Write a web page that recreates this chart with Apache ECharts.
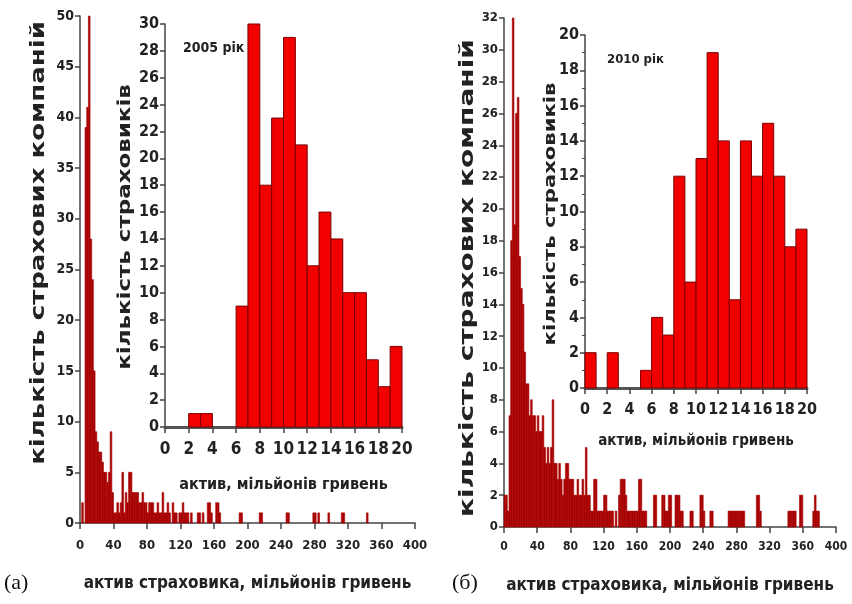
<!DOCTYPE html>
<html>
<head>
<meta charset="utf-8">
<script src="https://cdn.jsdelivr.net/npm/echarts@6/dist/echarts.min.js"></script>
<style>
  html, body { margin: 0; padding: 0; background: #fff; }
  #chart { width: 852px; height: 604px; }
</style>
</head>
<body>
<div id="chart"></div>
<script>
// counts of companies per 2 mln bin, 0..400
const assets2005 = [
  0, 2, 0, 39, 41, 50, 28, 24, 15, 9,
  8, 7, 7, 6, 5, 5, 4, 5, 9, 3,
  1, 1, 2, 1, 2, 5, 1, 3, 2, 5,
  5, 3, 3, 3, 3, 2, 2, 3, 2, 2,
  1, 2, 2, 2, 1, 1, 2, 1, 1, 3,
  1, 1, 2, 1, 0, 2, 1, 1, 0, 1,
  1, 2, 1, 1, 1, 0, 1, 0, 0, 0,
  1, 1, 0, 1, 0, 0, 2, 2, 1, 0,
  0, 2, 2, 1, 0, 0, 0, 0, 0, 0,
  0, 0, 0, 0, 0, 1, 1, 0, 0, 0,
  0, 0, 0, 0, 0, 0, 0, 1, 1, 0,
  0, 0, 0, 0, 0, 0, 0, 0, 0, 0,
  0, 0, 0, 1, 1, 0, 0, 0, 0, 0,
  0, 0, 0, 0, 0, 0, 0, 0, 0, 1,
  1, 0, 1, 0, 0, 0, 0, 0, 1, 0,
  0, 0, 0, 0, 0, 0, 1, 1, 0, 0,
  0, 0, 0, 0, 0, 0, 0, 0, 0, 0,
  0, 1, 0, 0, 0, 0, 0, 0, 0, 0,
  0, 0, 0, 0, 0, 0, 0, 0, 0, 0,
  0, 0, 0, 0, 0, 0, 0, 0, 0, 0
];
const assets2010 = [
  2, 2, 1, 7, 18, 32, 19, 26, 27, 17,
  15, 14, 11, 9, 9, 7, 8, 7, 7, 6,
  7, 6, 6, 7, 5, 4, 5, 4, 5, 8,
  4, 4, 3, 4, 3, 2, 3, 4, 4, 3,
  3, 3, 2, 2, 3, 2, 2, 3, 2, 5,
  2, 2, 1, 1, 3, 3, 1, 1, 1, 1,
  2, 2, 1, 1, 1, 1, 0, 1, 0, 2,
  3, 3, 3, 2, 1, 1, 1, 1, 1, 1,
  1, 3, 3, 1, 1, 1, 0, 0, 0, 0,
  2, 2, 0, 0, 0, 2, 2, 1, 1, 2,
  2, 0, 0, 2, 2, 2, 1, 1, 0, 0,
  0, 0, 1, 1, 0, 0, 0, 0, 2, 2,
  1, 0, 0, 0, 1, 1, 0, 0, 0, 0,
  0, 0, 0, 0, 0, 1, 1, 1, 1, 1,
  1, 1, 1, 1, 1, 0, 0, 0, 0, 0,
  0, 0, 2, 2, 1, 0, 0, 0, 0, 0,
  0, 0, 0, 0, 0, 0, 0, 0, 0, 0,
  0, 1, 1, 1, 1, 1, 0, 0, 2, 2,
  0, 0, 0, 0, 0, 0, 1, 2, 1, 1,
  0, 0, 0, 0, 0, 0, 0, 0, 0, 0
];
// insets: per 1 mln bin, 0..20
const small2005 = [0, 0, 1, 1, 0, 0, 9, 30, 18, 23, 29, 21, 12, 16, 14, 10, 10, 5, 3, 6];
const small2010 = [2, 0, 2, 0, 0, 1, 4, 3, 12, 6, 13, 19, 14, 5, 14, 12, 15, 12, 8, 9];

const NARROW = '"Liberation Sans Narrow", "DejaVu Sans Condensed", sans-serif';
const WIDE = '"DejaVu Sans", sans-serif';

function bins(counts, w) {
  return counts.map((c, i) => [i * w, (i + 1) * w, c]).filter(d => d[2] > 0);
}

function histRender(fill, stroke, lw) {
  return function (params, api) {
    const a = api.coord([api.value(0), api.value(2)]);
    const b = api.coord([api.value(1), 0]);
    return {
      type: 'rect',
      shape: { x: a[0], y: a[1], width: b[0] - a[0], height: b[1] - a[1] },
      style: { fill: fill, stroke: stroke, lineWidth: lw }
    };
  };
}

function xAx(idx, max, step, size, margin, name, gap, nameSize) {
  return {
    gridIndex: idx, type: 'value', min: 0, max: max, interval: step,
    axisLine: { lineStyle: { color: '#444', width: 1.5 } },
    axisTick: { inside: false, length: 6, lineStyle: { color: '#444', width: 1.5 } },
    axisLabel: { color: '#222', fontFamily: NARROW, fontWeight: 'bold', fontSize: size, margin: margin },
    splitLine: { show: false },
    name: name, nameLocation: 'middle', nameGap: gap,
    nameTextStyle: { color: '#222', fontFamily: NARROW, fontWeight: 'bold', fontSize: nameSize }
  };
}

function yAx(idx, max, step, size, minor) {
  return {
    gridIndex: idx, type: 'value', min: 0, max: max, interval: step,
    axisLine: { show: true, lineStyle: { color: '#444', width: 1.5 } },
    axisTick: { show: true, length: 5, lineStyle: { color: '#444', width: 1.5 } },
    minorTick: { show: !!minor, splitNumber: 2, length: 3, lineStyle: { color: '#444' } },
    axisLabel: { color: '#222', fontFamily: NARROW, fontWeight: 'bold', fontSize: size, margin: 6 },
    splitLine: { show: false }
  };
}

// rotated y-axis titles, stretched along the baseline like the original lettering
function yTitle(text, x, y, size, stretch) {
  return {
    type: 'text', x: x, y: y, rotation: Math.PI / 2, scaleX: stretch,
    style: { text: text, font: 'bold ' + size + 'px ' + WIDE, fill: '#222', align: 'center', verticalAlign: 'middle' }
  };
}

const chart = echarts.init(document.getElementById('chart'));
const insetX1 = xAx(1, 20, 2, 17, 14, 'актив, мільйонів гривень', 50, 16);
const insetX3 = xAx(3, 20, 2, 16, 14, 'актив, мільйонів гривень', 46, 15);
insetX1.axisLine.lineStyle = { color: '#555', width: 3 };
insetX3.axisLine.lineStyle = { color: '#555', width: 3 };

chart.setOption({
  animation: false,
  backgroundColor: '#fff',
  title: [
    { text: '2005 рік', left: 178, top: 36, textStyle: { fontFamily: NARROW, fontWeight: 'bold', fontSize: 14, color: '#222' } },
    { text: '2010 рік', left: 602, top: 48, textStyle: { fontFamily: NARROW, fontWeight: 'bold', fontSize: 13, color: '#222' } }
  ],
  graphic: [
    { type: 'text', left: 4, top: 572, style: { text: '(а)', font: '22px "Liberation Serif", serif', fill: '#111' } },
    { type: 'text', left: 452, top: 572, style: { text: '(б)', font: '22px "Liberation Serif", serif', fill: '#111' } },
    yTitle('кількість страхових компаній', 39, 243, 20, 1.3),
    yTitle('кількість страхових компаній', 468, 278, 20, 1.4),
    yTitle('кількість страховиків', 126, 227, 17, 1.35),
    yTitle('кількість страховиків', 551, 214, 16, 1.32)
  ],
  grid: [
    { left: 80, top: 16, width: 335, height: 507 },
    { left: 165, top: 24, width: 237, height: 403 },
    { left: 504, top: 18, width: 332, height: 509 },
    { left: 585, top: 35, width: 222, height: 353 }
  ],
  xAxis: [
    xAx(0, 400, 40, 13, 16, 'актив страховика, мільйонів гривень', 52, 17),
    insetX1,
    xAx(2, 400, 40, 12, 14, 'актив страховика, мільйонів гривень', 50, 17),
    insetX3
  ],
  yAxis: [
    yAx(0, 50, 5, 14),
    yAx(1, 30, 2, 16),
    yAx(2, 32, 2, 13),
    yAx(3, 20, 2, 16, true)
  ],
  series: [
    { type: 'custom', xAxisIndex: 0, yAxisIndex: 0, data: bins(assets2005, 2),
      renderItem: histRender('#a80000', '#a80000', 0.6) },
    { type: 'custom', xAxisIndex: 1, yAxisIndex: 1, data: bins(small2005, 1),
      renderItem: histRender('#f20000', '#7a0000', 1) },
    { type: 'custom', xAxisIndex: 2, yAxisIndex: 2, data: bins(assets2010, 2),
      renderItem: histRender('#a80000', '#a80000', 0.6) },
    { type: 'custom', xAxisIndex: 3, yAxisIndex: 3, data: bins(small2010, 1),
      renderItem: histRender('#f20000', '#7a0000', 1) }
  ]
});
</script>
</body>
</html>
